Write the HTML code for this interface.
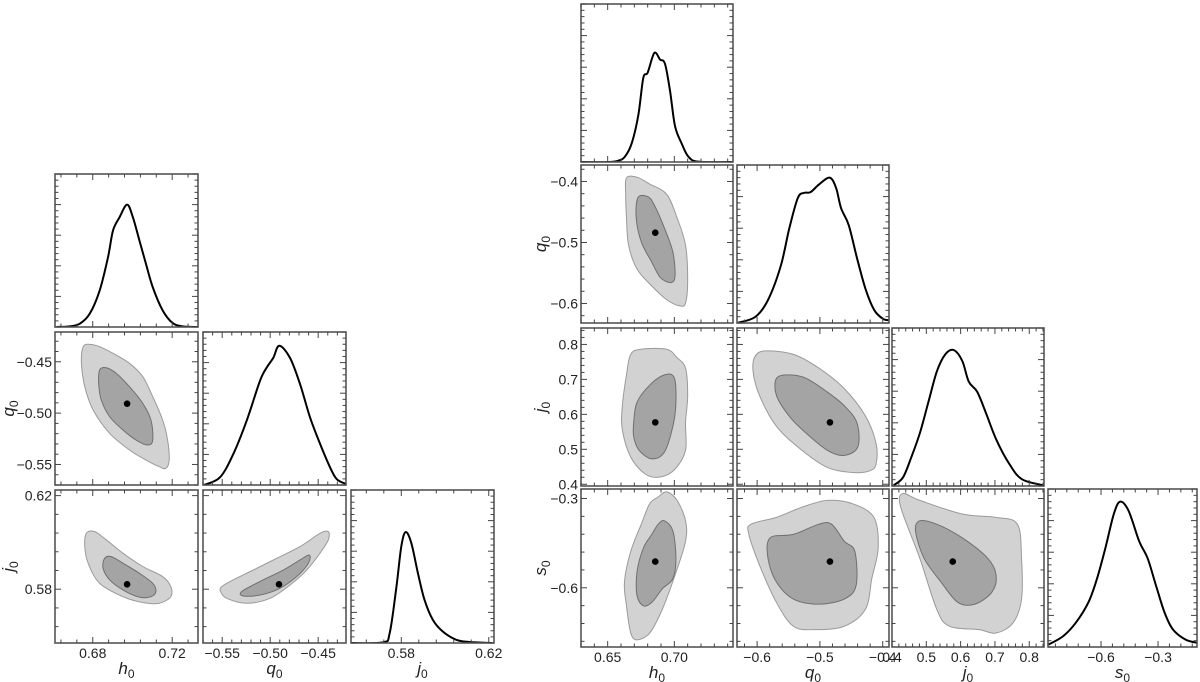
<!DOCTYPE html>
<html><head><meta charset="utf-8">
<style>
html,body{margin:0;padding:0;background:#fff;}
svg{display:block;font-family:"Liberation Sans",sans-serif;}
</style></head>
<body>
<svg id="chart" width="1200" height="682" viewBox="0 0 1200 682" xmlns="http://www.w3.org/2000/svg"></svg>
<script>
// ---------- DATA ----------
// Left corner plot: 1D marginals
const L_h0_x = [0.6618,0.6685,0.6735,0.6785,0.6835,0.6877,0.6902,0.6935,0.6973,0.7002,0.7035,0.7068,0.7102,0.7152,0.7202,0.7252,0.7327];
const L_h0_d = [0,0.005,0.027,0.109,0.299,0.571,0.788,0.897,1,0.897,0.707,0.516,0.326,0.136,0.033,0.005,0];
const L_q0_x = [-0.569,-0.5523,-0.5384,-0.5245,-0.5106,-0.5036,-0.4967,-0.4905,-0.4794,-0.4689,-0.4585,-0.4481,-0.4377,-0.4307,-0.421];
const L_q0_d = [0,0.055,0.223,0.462,0.749,0.844,0.914,1,0.914,0.725,0.486,0.297,0.128,0.043,0.007];
const L_j0_x = [0.5573,0.5717,0.5747,0.5778,0.5800,0.5820,0.5846,0.5876,0.5906,0.5944,0.5989,0.6050,0.6111,0.6217];
const L_j0_d = [0,0.006,0.09,0.51,0.87,1,0.90,0.63,0.39,0.21,0.105,0.03,0.009,0];
// Left 2D contours [x,y]
const L_hq_outer = [[0.6752,-0.4353],[0.6785,-0.4330],[0.6835,-0.4353],[0.6902,-0.4418],[0.6985,-0.4515],[0.7052,-0.4645],[0.7102,-0.4840],[0.7152,-0.5067],[0.7177,-0.5262],[0.7185,-0.5457],[0.7168,-0.5538],[0.7135,-0.5522],[0.7068,-0.5457],[0.6985,-0.5359],[0.6885,-0.5197],[0.6802,-0.4970],[0.6760,-0.4743],[0.6743,-0.4515]];
const L_hq_inner = [[0.6835,-0.4580],[0.6868,-0.4558],[0.6918,-0.4612],[0.6985,-0.4743],[0.7052,-0.4905],[0.7093,-0.5067],[0.7102,-0.5262],[0.7077,-0.5311],[0.7018,-0.5262],[0.6952,-0.5164],[0.6885,-0.5034],[0.6843,-0.4872],[0.6830,-0.4710]];
const L_hj_outer = [[0.6768,0.6039],[0.6810,0.6046],[0.6868,0.6011],[0.6952,0.5954],[0.7052,0.5897],[0.7152,0.5854],[0.7193,0.5811],[0.7193,0.5768],[0.7135,0.5740],[0.7052,0.5743],[0.6952,0.5768],[0.6835,0.5825],[0.6777,0.5911],[0.6760,0.5982]];
const L_hj_inner = [[0.6860,0.5932],[0.6893,0.5939],[0.6952,0.5911],[0.7035,0.5868],[0.7102,0.5825],[0.7118,0.5790],[0.7093,0.5768],[0.7035,0.5766],[0.6952,0.5797],[0.6885,0.5840],[0.6852,0.5890]];
const L_qj_outer = [[-0.5505,0.5811],[-0.5384,0.5840],[-0.5176,0.5882],[-0.4932,0.5932],[-0.4689,0.5982],[-0.4481,0.6039],[-0.4394,0.6046],[-0.4394,0.6011],[-0.4481,0.5954],[-0.4619,0.5882],[-0.4793,0.5818],[-0.5002,0.5761],[-0.5245,0.5740],[-0.5453,0.5761],[-0.5516,0.5790]];
const L_qj_inner = [[-0.5297,0.5790],[-0.5106,0.5833],[-0.4863,0.5882],[-0.4689,0.5925],[-0.4592,0.5946],[-0.4602,0.5911],[-0.4724,0.5854],[-0.4898,0.5804],[-0.5106,0.5775],[-0.5280,0.5771]];
const L_best = {h0:0.6973, q0:-0.4908, j0:0.5821};

// Right corner plot: 1D marginals
const R_h0_x = [0.6305,0.6505,0.658,0.663,0.668,0.673,0.6767,0.680,0.685,0.6893,0.693,0.6968,0.7005,0.7055,0.7105,0.718,0.743];
const R_h0_d = [0,0,0.012,0.05,0.17,0.43,0.77,0.82,1,0.94,0.90,0.65,0.33,0.17,0.05,0.003,0];
const R_q0_x = [-0.630,-0.6028,-0.5826,-0.5623,-0.5488,-0.5352,-0.5251,-0.515,-0.5014,-0.4846,-0.4743,-0.4663,-0.4541,-0.4405,-0.4270,-0.4135,-0.40,-0.390];
const R_q0_d = [0.002,0.042,0.159,0.393,0.650,0.860,0.895,0.90,0.953,1,0.93,0.79,0.673,0.439,0.229,0.089,0.030,0.019];
const R_j0_x = [0.4047,0.432,0.4566,0.4813,0.506,0.5308,0.5556,0.5804,0.605,0.6238,0.6485,0.6731,0.7042,0.7415,0.7785,0.8404];
const R_j0_d = [0.005,0.063,0.214,0.390,0.617,0.844,0.970,1,0.919,0.768,0.693,0.542,0.340,0.164,0.050,0.005];
const R_s0_x = [-0.877,-0.799,-0.732,-0.666,-0.621,-0.577,-0.533,-0.499,-0.455,-0.399,-0.355,-0.311,-0.266,-0.222,-0.155,-0.089];
const R_s0_d = [0.016,0.075,0.168,0.308,0.471,0.681,0.914,1,0.937,0.727,0.611,0.424,0.238,0.121,0.051,0.028];
// Right 2D contours
const R_hq_outer = [[0.6641,-0.3941],[0.6720,-0.3930],[0.6815,-0.4042],[0.6942,-0.4209],[0.7021,-0.4599],[0.7084,-0.5045],[0.7100,-0.5603],[0.7084,-0.5993],[0.7037,-0.6037],[0.6942,-0.5937],[0.6831,-0.5714],[0.6720,-0.5435],[0.6657,-0.5045],[0.6641,-0.4599],[0.6635,-0.4209]];
const R_hq_inner = [[0.6727,-0.4265],[0.6800,-0.4248],[0.6847,-0.4376],[0.6926,-0.4766],[0.6989,-0.5157],[0.7005,-0.5547],[0.6974,-0.5658],[0.6895,-0.5575],[0.6831,-0.5324],[0.6752,-0.4989],[0.6714,-0.4599]];
const R_hj_outer = [[0.6673,0.7716],[0.6752,0.7863],[0.6942,0.7863],[0.7021,0.7618],[0.7084,0.7324],[0.7100,0.6540],[0.7084,0.5756],[0.7084,0.4972],[0.7005,0.4433],[0.6895,0.4208],[0.6784,0.4286],[0.6673,0.4776],[0.6610,0.5560],[0.6610,0.6246],[0.6641,0.7128]];
const R_hj_inner = [[0.6695,0.5756],[0.6720,0.6344],[0.6815,0.6834],[0.6926,0.7128],[0.6999,0.7050],[0.7012,0.6344],[0.6989,0.5658],[0.6926,0.4923],[0.6831,0.4727],[0.6736,0.4972],[0.6695,0.5364]];
const R_hs_outer = [[0.6879,-0.2949],[0.6942,-0.2777],[0.7021,-0.3063],[0.7084,-0.3749],[0.7084,-0.4435],[0.7005,-0.5578],[0.6910,-0.6721],[0.6815,-0.7521],[0.6720,-0.7749],[0.6673,-0.7521],[0.6641,-0.6606],[0.6626,-0.5806],[0.6673,-0.4777],[0.6752,-0.3863],[0.6815,-0.3177]];
const R_hs_inner = [[0.6879,-0.3863],[0.6926,-0.3749],[0.6989,-0.4092],[0.7012,-0.5006],[0.6989,-0.5692],[0.6910,-0.6035],[0.6831,-0.6492],[0.6768,-0.6606],[0.6720,-0.6263],[0.6720,-0.5463],[0.6768,-0.4663],[0.6831,-0.4206]];
const R_qj_outer = [[-0.6030,0.7667],[-0.5861,0.7814],[-0.5422,0.7716],[-0.5017,0.7324],[-0.4612,0.6736],[-0.4275,0.5952],[-0.4106,0.5168],[-0.4106,0.4580],[-0.4207,0.4384],[-0.4477,0.4335],[-0.4882,0.4482],[-0.5287,0.4972],[-0.5692,0.5658],[-0.5962,0.6540],[-0.6064,0.7226]];
const R_qj_inner = [[-0.5692,0.7030],[-0.5490,0.7128],[-0.5220,0.7030],[-0.4882,0.6638],[-0.4612,0.6246],[-0.4410,0.5756],[-0.4396,0.5070],[-0.4612,0.4825],[-0.4882,0.4972],[-0.5220,0.5462],[-0.5490,0.5952],[-0.5692,0.6540]];
const R_qs_outer = [[-0.6097,-0.3863],[-0.5692,-0.3634],[-0.5287,-0.3292],[-0.4882,-0.3063],[-0.4477,-0.3177],[-0.4140,-0.3634],[-0.4072,-0.4663],[-0.4174,-0.5692],[-0.4275,-0.6721],[-0.4612,-0.7292],[-0.5085,-0.7406],[-0.5422,-0.7292],[-0.5692,-0.6492],[-0.5962,-0.5235],[-0.6131,-0.4206]];
const R_qs_inner = [[-0.5793,-0.4321],[-0.5422,-0.4206],[-0.5017,-0.3863],[-0.4815,-0.3863],[-0.4612,-0.4435],[-0.4444,-0.4777],[-0.4423,-0.5920],[-0.4612,-0.6378],[-0.5017,-0.6549],[-0.5422,-0.6378],[-0.5692,-0.5806],[-0.5827,-0.5006]];
const R_js_outer = [[0.4316,-0.2834],[0.4810,-0.3063],[0.6046,-0.3520],[0.7035,-0.3634],[0.7653,-0.3863],[0.7776,-0.5006],[0.7776,-0.6378],[0.7529,-0.7177],[0.7035,-0.7521],[0.6540,-0.7406],[0.5675,-0.7292],[0.5304,-0.6721],[0.4810,-0.5006],[0.4254,-0.3292]];
const R_js_inner = [[0.4810,-0.3749],[0.5304,-0.3863],[0.6046,-0.4321],[0.6788,-0.5006],[0.7035,-0.5578],[0.6911,-0.6149],[0.6417,-0.6549],[0.5922,-0.6492],[0.5428,-0.5806],[0.4934,-0.5006],[0.4686,-0.4092]];
const R_best = {h0:0.6857, q0:-0.484, j0:0.577, s0:-0.512};

// Tick values and labels
const L_h0_ticks = [0.68,0.72], L_h0_labels = ["0.68","0.72"];
const L_q0_ticks = [-0.55,-0.50,-0.45], L_q0_labels = ["\u22120.55","\u22120.50","\u22120.45"];
const L_j0_ticks = [0.58,0.62], L_j0_labels = ["0.58","0.62"];
const R_h0_ticks = [0.65,0.70], R_h0_labels = ["0.65","0.70"];
const R_q0_ticks = [-0.6,-0.5,-0.4], R_q0_labels = ["\u22120.6","\u22120.5","\u22120.4"];
const R_j0_ticks = [0.4,0.5,0.6,0.7,0.8], R_j0_labels = ["0.4","0.5","0.6","0.7","0.8"];
const R_s0_ticks = [-0.6,-0.3], R_s0_labels = ["\u22120.6","\u22120.3"];

// ---------- DRAWING ----------
const NS = "http://www.w3.org/2000/svg";
const svg = document.getElementById('chart');
function mk(tag, attrs, parent){
  const e = document.createElementNS(NS, tag);
  for (const k in attrs) e.setAttribute(k, attrs[k]);
  (parent||svg).appendChild(e);
  return e;
}
function scale(d0,d1,p0,p1){ return v => p0 + (v-d0)/(d1-d0)*(p1-p0); }
function smoothPath(pts, closed){
  const n = pts.length; let d = "M"+pts[0][0].toFixed(2)+","+pts[0][1].toFixed(2);
  const get = i => closed ? pts[(i+n)%n] : pts[Math.max(0,Math.min(n-1,i))];
  const lim = closed ? n : n-1;
  for (let i=0;i<lim;i++){
    const p0=get(i-1),p1=get(i),p2=get(i+1),p3=get(i+2);
    const c1=[p1[0]+(p2[0]-p0[0])/6,p1[1]+(p2[1]-p0[1])/6];
    const c2=[p2[0]-(p3[0]-p1[0])/6,p2[1]-(p3[1]-p1[1])/6];
    d+=" C"+c1[0].toFixed(2)+","+c1[1].toFixed(2)+" "+c2[0].toFixed(2)+","+c2[1].toFixed(2)+" "+p2[0].toFixed(2)+","+p2[1].toFixed(2);
  }
  return d + (closed?" Z":"");
}
function ticks(g, box, axis, majors, side){
  const step = (majors.length>1 ? majors[1]-majors[0] : 0.04)/5;
  const [lo,hi] = axis.range;
  const start = Math.ceil((Math.min(lo,hi)-majors[0])/step-1e-6);
  const end = Math.floor((Math.max(lo,hi)-majors[0])/step+1e-6);
  const s = axis.s;
  for (let k=start;k<=end;k++){
    const v = majors[0]+k*step;
    const isMaj = Math.abs(Math.round(k/5)*5-k)<1e-6;
    const L = isMaj?6:3.5;
    const p = s(v);
    if (side==='x'){
      mk('line',{x1:p,x2:p,y1:box.y+box.h,y2:box.y+box.h-L,stroke:'#444','stroke-width':1},g);
      mk('line',{x1:p,x2:p,y1:box.y,y2:box.y+L,stroke:'#444','stroke-width':1},g);
    } else {
      mk('line',{y1:p,y2:p,x1:box.x,x2:box.x+L,stroke:'#444','stroke-width':1},g);
      mk('line',{y1:p,y2:p,x1:box.x+box.w,x2:box.x+box.w-L,stroke:'#444','stroke-width':1},g);
    }
  }
}
function panel(name, box, xr, yr, opts){
  const g = mk('g',{});
  
  
  const sx = scale(xr[0],xr[1],box.x,box.x+box.w);
  const sy = scale(yr[0],yr[1],box.y+box.h,box.y);
  const cid = 'clip-'+name;
  const cp = mk('clipPath',{id:cid},g);
  mk('rect',{x:box.x,y:box.y,width:box.w,height:box.h},cp);
  const inner = mk('g',{'clip-path':'url(#'+cid+')'},g);
  if (opts.hist){
    const xs=opts.hist[0], ds=opts.hist[1];
    const sd = v => box.y+box.h - v*opts.peak*box.h;
    const pts = xs.map((x,i)=>[sx(x), sd(ds[i])]);
    const p = mk('path',{d:smoothPath(pts,false),fill:'none',stroke:'#000','stroke-width':2},inner);
    
    
  }
  if (opts.outer){
    const o = mk('path',{d:smoothPath(opts.outer.map(q=>[sx(q[0]),sy(q[1])]),true),fill:'#d2d2d2',stroke:'#9a9a9a','stroke-width':1},inner);
    
    
    const i2 = mk('path',{d:smoothPath(opts.inner.map(q=>[sx(q[0]),sy(q[1])]),true),fill:'#a4a4a4',stroke:'#6f6f6f','stroke-width':1},inner);
    
    
    const c = mk('circle',{cx:sx(opts.best[0]),cy:sy(opts.best[1]),r:3.3,fill:'#000'},inner);
    
    
  }
  const fr = mk('rect',{x:box.x,y:box.y,width:box.w,height:box.h,fill:'none',stroke:'#555','stroke-width':1.6},g);
  
  
  ticks(g, box, {range:xr,s:sx}, opts.xt[0], 'x');
  if (opts.yt) ticks(g, box, {range:yr,s:sy}, opts.yt[0], 'y');
  else ticks(g, box, {range:[0,1.25],s:scale(0,1.25,box.y+box.h,box.y)}, [0,0.25], 'y');
  if (opts.xlab){
    opts.xt[0].forEach((v,i)=>{
      const t = mk('text',{x:sx(v),y:box.y+box.h+15,'text-anchor':'middle','font-size':14,fill:'#222'},g);
      t.textContent = opts.xt[1][i];
      
      
    });
    const tt = mk('text',{x:box.x+box.w/2,y:box.y+box.h+31,'text-anchor':'middle','font-size':17,'font-style':'italic',fill:'#222'},g);
    tt.innerHTML = opts.xlab+'<tspan font-size="12" font-style="normal" dy="4">0</tspan>';
    
    
  }
  if (opts.ylab){
    opts.yt[0].forEach((v,i)=>{
      const t = mk('text',{x:box.x-3,y:sy(v)+5,'text-anchor':'end','font-size':14,fill:'#222'},g);
      t.textContent = opts.yt[1][i];
      
      
    });
    const cx = opts.ytx, cy = box.y+box.h/2;
    const tt = mk('text',{x:cx,y:cy,'text-anchor':'middle','font-size':17,'font-style':'italic',fill:'#222',transform:'rotate(-90 '+cx+' '+cy+')'},g);
    tt.innerHTML = opts.ylab+'<tspan font-size="12" font-style="normal" dy="4">0</tspan>';
    
    
  }
}

// Left corner plot
const LX=[55,203,351], LY=[174,332,490], LW=143, LH=153;
const Lr = {h0:[0.661,0.733], q0:[-0.570,-0.421], j0:[0.557,0.6224]};
const LT = {h0:[L_h0_ticks,L_h0_labels], q0:[L_q0_ticks,L_q0_labels], j0:[L_j0_ticks,L_j0_labels]};
panel('left-h0-marginal',{x:LX[0],y:LY[0],w:LW,h:LH},Lr.h0,[0,1],{hist:[L_h0_x,L_h0_d],peak:0.80,xt:LT.h0});
panel('left-h0-q0',{x:LX[0],y:LY[1],w:LW,h:LH},Lr.h0,Lr.q0,{outer:L_hq_outer,inner:L_hq_inner,best:[L_best.h0,L_best.q0],xt:LT.h0,yt:LT.q0,ylab:'q',ytx:14});
panel('left-q0-marginal',{x:LX[1],y:LY[1],w:LW,h:LH},Lr.q0,[0,1],{hist:[L_q0_x,L_q0_d],peak:0.91,xt:LT.q0});
panel('left-h0-j0',{x:LX[0],y:LY[2],w:LW,h:LH},Lr.h0,Lr.j0,{outer:L_hj_outer,inner:L_hj_inner,best:[L_best.h0,L_best.j0],xt:LT.h0,yt:LT.j0,ylab:'j',ytx:14,xlab:'h'});
panel('left-q0-j0',{x:LX[1],y:LY[2],w:LW,h:LH},Lr.q0,Lr.j0,{outer:L_qj_outer,inner:L_qj_inner,best:[L_best.q0,L_best.j0],xt:LT.q0,yt:LT.j0,xlab:'q'});
panel('left-j0-marginal',{x:LX[2],y:LY[2],w:LW,h:LH},Lr.j0,[0,1],{hist:[L_j0_x,L_j0_d],peak:0.725,xt:LT.j0,xlab:'j'});

// Right corner plot
const RX=[581,737,892,1048], RY=[4,165,328,489], RW=152, RH=158;
const Rr = {h0:[0.630,0.744], q0y:[-0.632,-0.373], q0x:[-0.632,-0.39], j0y:[0.395,0.847], j0x:[0.4,0.843], s0y:[-0.799,-0.268], s0x:[-0.879,-0.095]};
const RT = {h0:[R_h0_ticks,R_h0_labels], q0:[R_q0_ticks,R_q0_labels], j0:[R_j0_ticks,R_j0_labels], s0:[R_s0_ticks,R_s0_labels]};
panel('right-h0-marginal',{x:RX[0],y:RY[0],w:RW,h:RH},Rr.h0,[0,1],{hist:[R_h0_x,R_h0_d],peak:0.69,xt:RT.h0});
panel('right-h0-q0',{x:RX[0],y:RY[1],w:RW,h:RH},Rr.h0,Rr.q0y,{outer:R_hq_outer,inner:R_hq_inner,best:[R_best.h0,R_best.q0],xt:RT.h0,yt:RT.q0,ylab:'q',ytx:546});
panel('right-q0-marginal',{x:RX[1],y:RY[1],w:RW,h:RH},Rr.q0x,[0,1],{hist:[R_q0_x,R_q0_d],peak:0.92,xt:RT.q0});
panel('right-h0-j0',{x:RX[0],y:RY[2],w:RW,h:RH},Rr.h0,Rr.j0y,{outer:R_hj_outer,inner:R_hj_inner,best:[R_best.h0,R_best.j0],xt:RT.h0,yt:RT.j0,ylab:'j',ytx:546});
panel('right-q0-j0',{x:RX[1],y:RY[2],w:RW,h:RH},Rr.q0x,Rr.j0y,{outer:R_qj_outer,inner:R_qj_inner,best:[R_best.q0,R_best.j0],xt:RT.q0,yt:RT.j0});
panel('right-j0-marginal',{x:RX[2],y:RY[2],w:RW,h:RH},Rr.j0x,[0,1],{hist:[R_j0_x,R_j0_d],peak:0.86,xt:RT.j0});
panel('right-h0-s0',{x:RX[0],y:RY[3],w:RW,h:RH},Rr.h0,Rr.s0y,{outer:R_hs_outer,inner:R_hs_inner,best:[R_best.h0,R_best.s0],xt:RT.h0,yt:RT.s0,ylab:'s',ytx:546,xlab:'h'});
panel('right-q0-s0',{x:RX[1],y:RY[3],w:RW,h:RH},Rr.q0x,Rr.s0y,{outer:R_qs_outer,inner:R_qs_inner,best:[R_best.q0,R_best.s0],xt:RT.q0,yt:RT.s0,xlab:'q'});
panel('right-j0-s0',{x:RX[2],y:RY[3],w:RW,h:RH},Rr.j0x,Rr.s0y,{outer:R_js_outer,inner:R_js_inner,best:[R_best.j0,R_best.s0],xt:RT.j0,yt:RT.s0,xlab:'j'});
panel('right-s0-marginal',{x:RX[3],y:RY[3],w:RW-3,h:RH},Rr.s0x,[0,1],{hist:[R_s0_x,R_s0_d],peak:0.92,xt:RT.s0,xlab:'s'});
</script>
</body></html>
